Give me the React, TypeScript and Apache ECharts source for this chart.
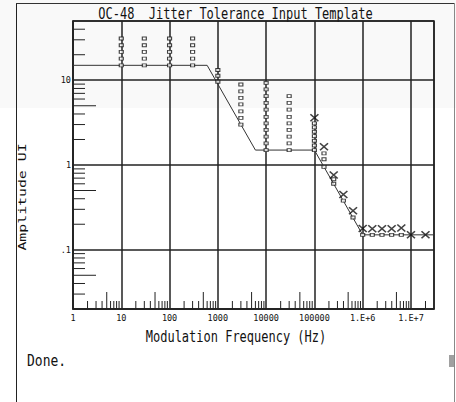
import React, { useEffect, useRef } from 'react';
import * as echarts from 'echarts';

const titleText = 'OC-48  Jitter Tolerance Input Template';
const xAxisTitle = 'Modulation Frequency (Hz)';
const yAxisTitle = 'Amplitude UI';
const statusText = 'Done.';

const xTickLabels: Record<string, string> = { '0': '1', '1': '10', '2': '100', '3': '1000', '4': '10000', '5': '100000', '6': '1.E+6', '7': '1.E+7' };
const yTickLabels: Record<string, string> = { '-1': '.1', '0': '1', '1': '10' };

const templateFreq = [1, 600, 6000, 100000, 1000000, 30000000];
const templateAmp = [15, 15, 1.5, 1.5, 0.15, 0.15];

const passFreq = [10, 30, 100, 300, 1000, 3000, 10000, 30000, 100000, 158000, 251000, 398000, 631000, 1000000, 1580000, 2510000, 3980000, 6310000];
const passAmp = [
  [15, 18, 21.6, 25.9, 31.1],
  [15, 18, 21.6, 25.9, 31.1],
  [15, 18, 21.6, 25.9, 31.1],
  [15, 18, 21.6, 25.9, 31.1],
  [9.6, 11.3, 13.2],
  [3, 3.6, 4.3, 5.2, 6.2, 7.4, 8.9],
  [1.5, 1.8, 2.16, 2.6, 3.1, 3.7, 4.5, 5.4, 6.5, 7.8, 9.3],
  [1.5, 1.8, 2.16, 2.6, 3.1, 3.7, 4.5, 5.4, 6.5],
  [1.5, 1.7, 1.93, 2.19, 2.47, 2.78, 3.1],
  [0.95, 1.17, 1.37],
  [0.6, 0.68],
  [0.38],
  [0.24],
  [0.15],
  [0.15],
  [0.15],
  [0.15],
  [0.15],
];

const failFreq = [100000, 158000, 251000, 398000, 631000, 1000000, 1580000, 2510000, 3980000, 6310000, 10000000, 20000000];
const failAmp = [3.6, 1.64, 0.76, 0.45, 0.288, 0.178, 0.177, 0.177, 0.177, 0.18, 0.15, 0.15];

const xDecades = [1, 10, 100, 1e3, 1e4, 1e5, 1e6, 1e7];
const yDecades = [0.01, 0.1, 1, 10];
const minorSteps = [2, 3, 4, 5, 6, 7, 8, 9];

const X_MIN = 1;
const X_MAX = 3e7;
const Y_MIN = 0.02;
const Y_MAX = 50;

const MONO = '"DejaVu Sans Mono", "Liberation Mono", monospace';
const INK = '#111';

function decadeKey(v: number): string | null {
  const e = Math.log10(v);
  const r = Math.round(e);
  if (Math.abs(e - r) < 1e-6) return String(r);
  return null;
}

export default function App() {
  const ref = useRef<HTMLDivElement>(null);

  useEffect(() => {
    if (!ref.current) return;
    const chart = echarts.init(ref.current, undefined, { renderer: 'svg' });

    const templateData = templateFreq.map((f, i) => [f, templateAmp[i]]);
    const passData: number[][] = [];
    passFreq.forEach((f, i) => passAmp[i].forEach((a) => passData.push([f, a])));
    const failData = failFreq.map((f, i) => [f, failAmp[i]]);

    const tickData: number[][] = [];
    xDecades.forEach((d) =>
      minorSteps.forEach((k) => {
        const f = d * k;
        if (f < X_MAX) tickData.push([f, Y_MIN, 0, k === 5 ? 1 : 0]);
      })
    );
    yDecades.forEach((d) =>
      minorSteps.forEach((k) => {
        const a = d * k;
        if (a > Y_MIN * 1.0001 && a < Y_MAX) tickData.push([X_MIN, a, 1, k === 5 ? 1 : 0]);
      })
    );

    const axisLineStyle = { color: '#222', width: 1.5 };

    const option: any = {
      animation: false,
      backgroundColor: '#ffffff',
      grid: {
        left: 73,
        right: 22,
        top: 21,
        bottom: 93,
        show: true,
        borderColor: '#222',
        borderWidth: 1.5,
        backgroundColor: 'transparent',
      },
      xAxis: {
        type: 'log',
        logBase: 10,
        min: X_MIN,
        max: X_MAX,
        axisLine: { show: true, lineStyle: axisLineStyle },
        axisTick: { show: false },
        splitLine: { show: true, lineStyle: axisLineStyle },
        minorTick: { show: false },
        minorSplitLine: { show: false },
        axisLabel: {
          show: true,
          margin: 4,
          fontFamily: MONO,
          fontSize: 8.5,
          color: INK,
          showMinLabel: true,
          showMaxLabel: true,
          formatter: (v: number) => {
            const k = decadeKey(v);
            return k !== null && xTickLabels[k] !== undefined ? xTickLabels[k] : '';
          },
        },
      },
      yAxis: {
        type: 'log',
        logBase: 10,
        min: Y_MIN,
        max: Y_MAX,
        axisLine: { show: true, lineStyle: axisLineStyle },
        axisTick: { show: false },
        splitLine: { show: true, lineStyle: axisLineStyle },
        minorTick: { show: false },
        minorSplitLine: { show: false },
        axisLabel: {
          show: true,
          margin: 2,
          fontFamily: MONO,
          fontSize: 8.5,
          color: INK,
          formatter: (v: number) => {
            const k = decadeKey(v);
            return k !== null && yTickLabels[k] !== undefined ? yTickLabels[k] : '';
          },
        },
      },
      graphic: [
        {
          type: 'rect',
          z: -10,
          silent: true,
          shape: { x: 0, y: 0, width: 456, height: 108 },
          style: { fill: '#f9f9f9' },
        },
        {
          type: 'line',
          silent: true,
          shape: { x1: 16.5, y1: 3, x2: 16.5, y2: 402 },
          style: { stroke: '#222', lineWidth: 1 },
        },
        {
          type: 'line',
          silent: true,
          shape: { x1: 16, y1: 3.5, x2: 455, y2: 3.5 },
          style: { stroke: '#333', lineWidth: 1 },
        },
        {
          type: 'line',
          silent: true,
          shape: { x1: 454.5, y1: 3, x2: 454.5, y2: 402 },
          style: { stroke: '#888', lineWidth: 1 },
        },
        {
          type: 'rect',
          silent: true,
          shape: { x: 449, y: 355, width: 5, height: 12 },
          style: { fill: '#a0a0a0' },
        },
        {
          type: 'text',
          silent: true,
          x: 235.5,
          y: 13,
          scaleY: 1.3,
          style: {
            text: titleText,
            font: '12px ' + MONO,
            fill: INK,
            align: 'center',
            verticalAlign: 'middle',
            textAlign: 'center',
            textVerticalAlign: 'middle',
          },
        },
        {
          type: 'text',
          silent: true,
          x: 236,
          y: 336,
          scaleY: 1.3,
          style: {
            text: xAxisTitle,
            font: '12px ' + MONO,
            fill: INK,
            align: 'center',
            verticalAlign: 'middle',
            textAlign: 'center',
            textVerticalAlign: 'middle',
          },
        },
        {
          type: 'text',
          silent: true,
          x: 22,
          y: 197,
          rotation: Math.PI / 2,
          scaleX: 1.35,
          style: {
            text: yAxisTitle,
            font: '11px ' + MONO,
            fill: INK,
            align: 'center',
            verticalAlign: 'middle',
            textAlign: 'center',
            textVerticalAlign: 'middle',
          },
        },
        {
          type: 'text',
          silent: true,
          x: 27,
          y: 361,
          scaleY: 1.2,
          style: {
            text: statusText,
            font: '13px ' + MONO,
            fill: INK,
            align: 'left',
            verticalAlign: 'middle',
            textAlign: 'left',
            textVerticalAlign: 'middle',
          },
        },
      ],
      series: [
        {
          type: 'custom',
          name: 'minorTicks',
          silent: true,
          clip: false,
          z: 2,
          encode: { x: 0, y: 1 },
          data: tickData,
          renderItem: (_params: any, api: any) => {
            const p = api.coord([api.value(0), api.value(1)]);
            const isY = api.value(2) === 1;
            const isLong = api.value(3) === 1;
            if (isY) {
              const len = isLong ? 23 : 12;
              return {
                type: 'line',
                shape: { x1: p[0], y1: p[1], x2: p[0] + len, y2: p[1] },
                style: { stroke: '#222', lineWidth: 1 },
              };
            }
            const len = isLong ? 17 : 8;
            return {
              type: 'line',
              shape: { x1: p[0], y1: p[1], x2: p[0], y2: p[1] - len },
              style: { stroke: '#222', lineWidth: 1 },
            };
          },
        },
        {
          type: 'line',
          name: 'Template',
          data: templateData,
          symbol: 'none',
          z: 3,
          lineStyle: { color: '#333', width: 1 },
        },
        {
          type: 'scatter',
          name: 'Pass',
          data: passData,
          symbol: 'rect',
          symbolSize: [4, 3],
          z: 4,
          itemStyle: { color: '#ffffff', borderColor: '#111', borderWidth: 1 },
        },
        {
          type: 'scatter',
          name: 'Fail',
          data: failData,
          symbol: 'path://M0,0L8,7M8,0L0,7',
          symbolSize: [8, 7],
          z: 5,
          itemStyle: { color: 'none', borderColor: '#111', borderWidth: 1.5 },
        },
      ],
    };

    chart.setOption(option);
    return () => chart.dispose();
  }, []);

  return (
    <div
      ref={ref}
      style={{ position: 'fixed', left: 0, top: 0, width: 456, height: 402 }}
    />
  );
}
